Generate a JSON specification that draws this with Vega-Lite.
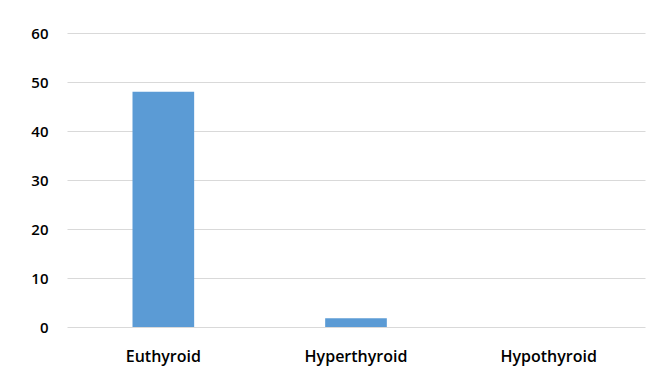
{
  "$schema": "https://vega.github.io/schema/vega-lite/v6.json",
  "width": 578,
  "height": 294,
  "autosize": {"type": "none"},
  "padding": {"left": 67, "top": 33, "right": 12, "bottom": 58},
  "background": "white",
  "config": {"view": {"stroke": null}},
  "data": {"values": [
    {"category": "Euthyroid", "count": 48},
    {"category": "Hyperthyroid", "count": 1.8},
    {"category": "Hypothyroid", "count": 0}
  ]},
  "mark": {"type": "bar", "color": "#5b9bd5"},
  "encoding": {
    "x": {
      "field": "category", "type": "nominal", "sort": null,
      "scale": {"paddingInner": 0.68, "paddingOuter": 0.34},
      "axis": {"title": null, "labelAngle": 0, "ticks": false, "domain": false,
        "labelFont": "Open Sans", "labelFontSize": 16, "labelFontWeight": 600,
        "labelColor": "#000000", "labelPadding": 21}
    },
    "y": {
      "field": "count", "type": "quantitative",
      "scale": {"domain": [0, 60], "nice": false},
      "axis": {"title": null, "values": [0, 10, 20, 30, 40, 50, 60], "ticks": false, "domain": false,
        "gridColor": "#d9d9d9", "gridWidth": 1,
        "labelFont": "Open Sans", "labelFontSize": 15, "labelFontWeight": 600,
        "labelColor": "#000000", "labelPadding": 19}
    }
  }
}
